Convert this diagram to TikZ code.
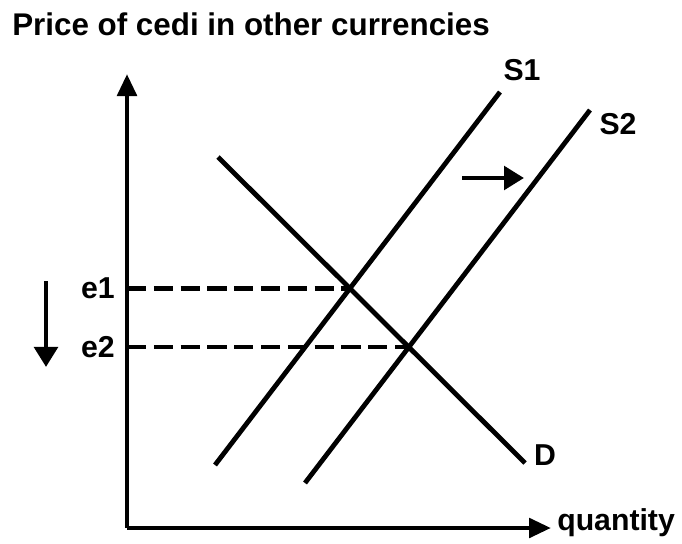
\documentclass[tikz,border=0pt]{standalone}
\usepackage{fontspec}
\setmainfont{Liberation Sans}
\usetikzlibrary{positioning, arrows.meta, intersections}

\begin{document}
\begin{tikzpicture}[
x=0.025cm, y=-0.025cm,
axis/.style={-{Triangle[length=0.55cm, width=0.48cm]}, line width=0.12cm},
curve/.style={line width=0.12cm},
guide/.style={line width=0.11cm, dash pattern=on 0.48cm off 0.19cm},
move/.style={-{Triangle[length=0.5cm, width=0.58cm]}, line width=0.12cm},
lbl/.style={font=\bfseries\fontsize{21.5}{25}\selectfont, inner sep=0pt}
]
\useasboundingbox (0,0) rectangle (682,544);

\node[lbl, anchor=base west, font=\bfseries\fontsize{22.3}{26}\selectfont] (title) at (12,36) {Price of cedi in other currencies};

% axes
\coordinate (origin) at (127,528);
\coordinate (ytop) at (127,74);
\coordinate (xend) at (551,528);
\draw[axis] (origin) -- (ytop);
\draw[axis] (origin) -- (xend);
\node[lbl, anchor=west] (qty) at (557,523) {quantity};

% supply and demand
\coordinate (s1lo) at (215,465);
\coordinate (s1hi) at (500,92);
\coordinate (s2lo) at (305,483);
\coordinate (s2hi) at (590,110);
\coordinate (dhi) at (218,157);
\coordinate (dlo) at (525,463);
\draw[curve, name path=s1] (s1lo) -- (s1hi);
\draw[curve, name path=s2] (s2lo) -- (s2hi);
\draw[curve, name path=d] (dhi) -- (dlo);
\node[lbl] (s1lab) at (522,70) {S1};
\node[lbl] (s2lab) at (618,124) {S2};
\node[lbl] (dlab) at (545,455) {D};

\path[name intersections={of=s1 and d, by=eqa}];
\path[name intersections={of=s2 and d, by=eqb}];

\draw[guide] (eqa -| origin) -- (eqa);
\draw[guide] (eqb -| origin) -- (eqb);
\node[lbl, left=0.3cm of {eqa -| origin}] (e1lab) {e1};
\node[lbl, left=0.3cm of {eqb -| origin}] (e2lab) {e2};

% shifts
\coordinate (dntop) at (46,281);
\coordinate (dnbot) at (46,367);
\draw[move] (dntop) -- (dnbot);
\coordinate (rtleft) at (462,178);
\coordinate (rtright) at (524,178);
\draw[move] (rtleft) -- (rtright);

\end{tikzpicture}
\end{document}
